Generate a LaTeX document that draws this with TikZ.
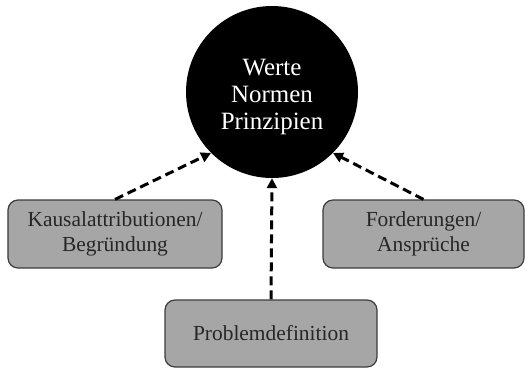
\documentclass[tikz,border=0pt]{standalone}
\usepackage{fontspec}
\setmainfont{Liberation Serif}
\usetikzlibrary{arrows.meta}
\definecolor{boxgray}{RGB}{166,166,166}
\definecolor{boxedge}{RGB}{60,60,60}
\tikzset{
  greybox/.style={draw=boxedge, line width=1.2bp, fill=boxgray, rounded corners=10bp,
    align=center, inner sep=0pt, font=\fontsize{21.5}{25}\selectfont, text=black!85},
  dasharrow/.style={line width=3bp, dash pattern=on 9bp off 5bp,
    -{Triangle[length=10bp,width=10bp]}}
}
\begin{document}
\begin{tikzpicture}[x=1bp,y=-1bp]
\useasboundingbox (0,0) rectangle (528,369);
\node[circle, fill=black, minimum size=172bp, inner sep=0pt] (w) at (272,92) {};
\node[align=center, text=white, inner sep=0pt, font=\fontsize{25}{27.5}\selectfont]
  (wt) at ([yshift=-5bp]w.center) {Werte\\Normen\\Prinzipien};
\node[greybox, minimum width=214bp, minimum height=68bp] (lb) at (115,234) {Kausalattributionen/\\Begründung};
\node[greybox, minimum width=201bp, minimum height=68bp] (rb) at (423.5,234) {Forderungen/\\Ansprüche};
\node[greybox, minimum width=212bp, minimum height=67bp] (bb) at (271,333.5) {Problemdefinition};
\draw[dasharrow] (lb.north) -- (w.225);
\draw[dasharrow] (rb.north) -- (w.315);
\draw[dasharrow] (bb.north) -- (w.south);
\end{tikzpicture}
\end{document}
